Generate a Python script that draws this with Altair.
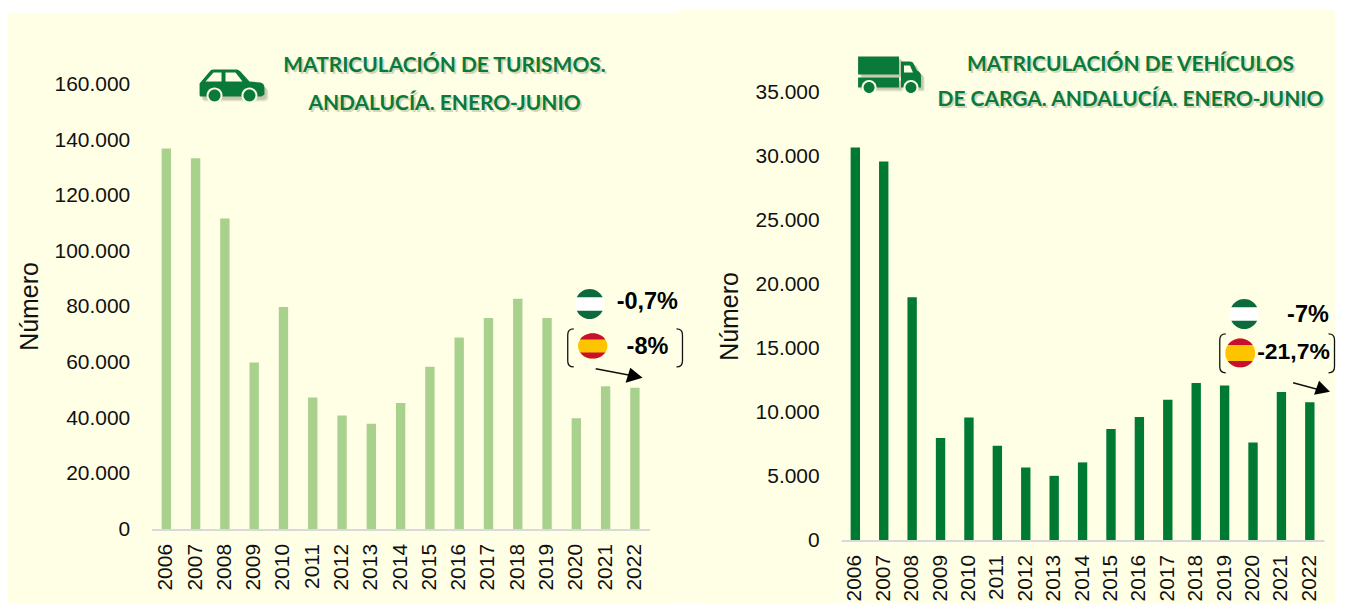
import math
import altair as alt
import pandas as pd

years = list(range(2006, 2023))
turismos = [137000, 133500, 111800, 60000, 80000, 47500, 41000, 38000, 45500,
            58500, 69000, 76000, 83000, 76000, 40000, 51500, 51000]
carga = [30700, 29600, 19000, 8000, 9600, 7400, 5700, 5050, 6100,
         8700, 9650, 11000, 12300, 12100, 7650, 11600, 10800]

BG = "#FFFFE6"
GREEN = "#0A7A3A"
BAR_L = "#A9D18E"
BAR_R = "#007A33"
ONE = pd.DataFrame({"k": [0]})
PAGE_BOTTOM = 604


def cap(rx, ry, b, sign):
    a = rx * math.sqrt(1 - (b / ry) ** 2)
    sweep = 1 if sign < 0 else 0
    return f"M{-a:.2f},{sign*b:.2f} A{rx},{ry},0,0,{sweep},{a:.2f},{sign*b:.2f} Z"


def ell(rx, ry):
    return f"M{-rx},0 A{rx},{ry},0,1,1,{rx},0 A{rx},{ry},0,1,1,{-rx},0 Z"


def panel(values, color, ymax, step, plot, frame, fills, notes):
    (px0, px1, py_top, py_bottom) = plot
    ox, oy = frame["x0"], 8
    rx = lambda x: x - ox
    ry = lambda y: y - oy
    W = frame["x1"] - frame["x0"]
    H = PAGE_BOTTOM - 8

    def shape(path, x, y, fill, opacity=1.0):
        return alt.Chart(ONE).mark_point(shape=path, size=4, filled=True, fill=fill,
                                         opacity=opacity, strokeWidth=0).encode(
            x=alt.value(rx(x)), y=alt.value(ry(y)))

    def stroke(path, x, y, sw=1.3):
        return alt.Chart(ONE).mark_point(shape=path, size=4, filled=False, stroke="#111",
                                         opacity=1, strokeWidth=sw).encode(
            x=alt.value(rx(x)), y=alt.value(ry(y)))

    def text(s, x, y, **kw):
        return alt.Chart(ONE).mark_text(**kw).encode(
            x=alt.value(rx(x)), y=alt.value(ry(y)), text=alt.value(s))

    def rect(x1, x2, y1, y2, fill):
        return alt.Chart(ONE).mark_rect(fill=fill, opacity=1).encode(
            x=alt.value(rx(x1)), x2=alt.value(rx(x2)),
            y=alt.value(ry(y1)), y2=alt.value(ry(y2)))

    df = pd.DataFrame({"year": years, "value": values})
    bars = alt.Chart(df).mark_bar(size=9.4, color=color).encode(
        x=alt.X("year:O", title=None,
                scale=alt.Scale(paddingInner=0, paddingOuter=0, range=[rx(px0), rx(px1)]),
                axis=alt.Axis(labelAngle=270, labelFontSize=21, labelFont="Liberation Sans",
                              labelColor="#111", labelPadding=14, ticks=False,
                              domainColor="#D9D9D9", domainWidth=2, labelOverlap=False,
                              offset=ry(py_bottom) - H, zindex=1)),
        y=alt.Y("value:Q", title="Número",
                scale=alt.Scale(domain=[0, ymax], nice=False, range=[ry(py_bottom), ry(py_top)]),
                axis=alt.Axis(values=list(range(0, ymax + 1, step)), grid=False, ticks=False,
                              domain=False, labelFontSize=21, labelFont="Liberation Sans",
                              labelColor="#111", labelPadding=22,
                              labelExpr="replace(format(datum.value, ','), ',', '.')",
                              titleFontSize=25, titleFont="Liberation Sans",
                              titleFontWeight="normal", titleColor="#111",
                              titleBaseline="middle",
                              titleX=frame["ytitle"][0] - px0, titleY=ry(frame["ytitle"][1]),
                              offset=-rx(px0), zindex=1)),
    )

    layers = [rect(a, b, t, PAGE_BOTTOM, BG) for a, b, t in fills] + [bars]

    for s, cx, cy in frame["titles"]:
        tk = dict(font="Lato", fontSize=frame["tfs"], fontWeight="bold", align="center", baseline="middle")
        layers.append(text(s, cx + 2, cy + 2, color="#8A8A6A", opacity=0.35, **tk))
        layers.append(text(s, cx, cy, color=GREEN, opacity=1, **tk))

    layers.extend(frame["icon"](shape))

    (ax, ay, arx, ary, ab), (ex, ey, erx, ery, eb) = notes["flags"]
    layers += [shape(ell(arx, ary), ax, ay, "#FFFFFF"),
               shape(cap(arx, ary, ab, -1), ax, ay, "#0B6B3A"),
               shape(cap(arx, ary, ab, 1), ax, ay, "#0B6B3A"),
               shape(ell(erx, ery), ex, ey, "#FFC400"),
               shape(cap(erx, ery, eb, -1), ex, ey, "#C8102E"),
               shape(cap(erx, ery, eb, 1), ex, ey, "#C8102E")]

    (bx1, bx2, by, bh) = notes["brackets"]
    layers += [stroke(f"M3,{-bh} Q-3,{-bh} -3,{-bh+6} L-3,{bh-6} Q-3,{bh} 3,{bh}", bx1, by),
               stroke(f"M-3,{-bh} Q3,{-bh} 3,{-bh+6} L3,{bh-6} Q3,{bh} -3,{bh}", bx2, by)]

    (x0, y0), (x1, y1) = notes["arrow"]
    a, b, tip = notes["head"]
    layers.append(stroke(f"M{x0-x1},{y0-y1} L0,0", x1, y1, 1.5))
    layers.append(shape(f"M{a[0]-x1},{a[1]-y1} L{b[0]-x1},{b[1]-y1} L{tip[0]-x1},{tip[1]-y1} Z",
                        x1, y1, "#000000"))

    for s, x, y, fs in notes["labels"]:
        layers.append(text(s, x, y, font="Liberation Sans", fontSize=fs, fontWeight="bold",
                           align="left", baseline="middle", color="#000"))

    return alt.layer(*layers).properties(width=W, height=H)


def car_icon(shape):
    cx, cy = 232, 85
    body = "M-32,-2 L-21,-15 Q-20,-16 -18,-16 L5,-16 Q7,-16 9,-14 L18,-4 L29,-3 Q33,-2 33,2 L33,9 L30,11 L-31,11 Q-32,11 -32,9 Z"
    out = []
    for d, o in ((4, 0.12), (3, 0.15), (2, 0.15)):
        out.append(shape(body, cx + d, cy + d + 1, "#666650", o))
    out.append(shape(body, cx, cy, GREEN))
    out.append(shape("M-26,-4 L-18,-13 L-10,-13 L-10,-4 Z", cx, cy, BG))
    out.append(shape("M-6,-13 L4,-13 L11,-4 L-6,-4 Z", cx, cy, BG))
    for wx in (-17, 18):
        out.append(shape(ell(8, 8), cx + wx, cy + 10, BG))
        out.append(shape(ell(6, 6), cx + wx, cy + 10, GREEN))
    return out


def truck_icon(shape):
    cx, cy = 892, 75
    parts = ["M-32,-19 L9,-19 L9,-1 L-32,-1 Z",
             "M-32,2 L9,2 L9,12 L-32,12 Z",
             "M11,-14 L20,-14 Q23,-14 24,-11 L27,-5 Q31,-3 31,0 L31,12 L11,12 Z"]
    out = []
    for d, o in ((4, 0.12), (3, 0.15), (2, 0.15)):
        for p in parts:
            out.append(shape(p, cx + d, cy + d, "#666650", o))
    for p in parts:
        out.append(shape(p, cx, cy, GREEN))
    out.append(shape("M14,-10 L20,-10 L23,-3 L14,-3 Z", cx, cy, BG))
    for wx in (-21, 21):
        out.append(shape(ell(7.5, 7.5), cx + wx, cy + 12, BG))
        out.append(shape(ell(5.5, 5.5), cx + wx, cy + 12, GREEN))
    return out


left_chart = panel(
    turismos, BAR_L, 160000, 20000, (152, 651, 84, 530),
    dict(x0=8, x1=690, ytitle=(30, 306), tfs=21,
         titles=[("MATRICULACIÓN DE TURISMOS.", 445.5, 65),
                 ("ANDALUCÍA. ENERO-JUNIO", 445.5, 104)],
         icon=car_icon),
    [(8, 680, 12), (680, 690, 9)],
    dict(flags=[(591, 304, 14.5, 15, 6.7), (594, 346, 14.7, 12.7, 6.5)],
         brackets=(572, 681, 348, 19),
         arrow=((597, 369), (634, 376)),
         head=((631.7, 368), (627, 383), (644, 378)),
         labels=[("-0,7%", 618, 302, 23.5), ("-8%", 628, 347, 23.5)]),
)

right_chart = panel(
    carga, BAR_R, 35000, 5000, (843, 1327, 92, 541),
    dict(x0=690, x1=1338, ytitle=(731, 316), tfs=21,
         titles=[("MATRICULACIÓN DE VEHÍCULOS", 1133, 64),
                 ("DE CARGA. ANDALUCÍA. ENERO-JUNIO", 1133, 100)],
         icon=truck_icon),
    [(690, 1338, 9)],
    dict(flags=[(1247, 314, 14.5, 15, 6.7), (1243, 353, 15, 14.5, 8)],
         brackets=(1225.5, 1334.5, 353.5, 19.5),
         arrow=((1296, 383), (1322, 390)),
         head=((1322, 381), (1317, 395), (1333, 392)),
         labels=[("-7%", 1290, 315, 23.5), ("-21,7%", 1260, 352, 23)]),
)

chart = alt.hconcat(left_chart, right_chart, spacing=0, padding=0, background="#FFFFFF"
                    ).configure_view(stroke=None)
chart.save("out.html", embed_options={"renderer": "svg", "actions": False})
